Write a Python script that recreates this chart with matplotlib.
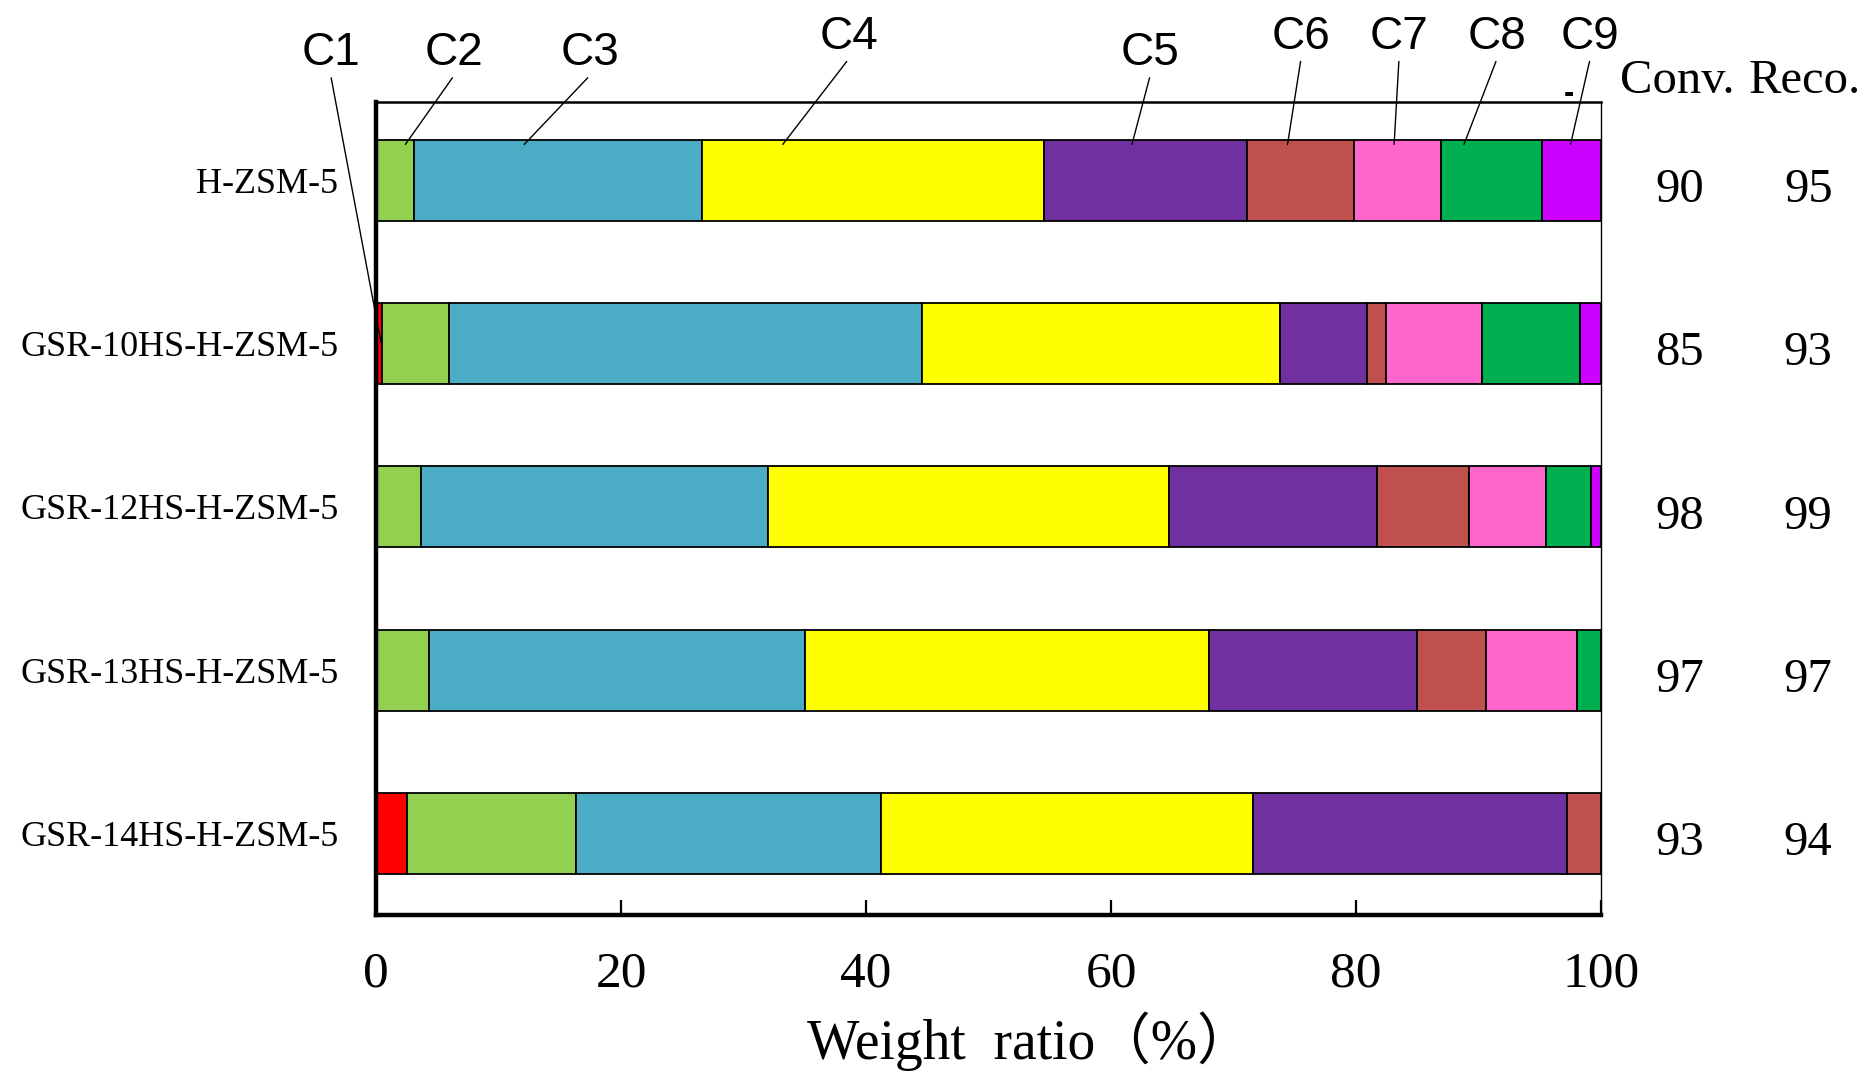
import numpy as np
import matplotlib
matplotlib.use("Agg")
import matplotlib.pyplot as plt

catalysts = ["H-ZSM-5", "GSR-10HS-H-ZSM-5", "GSR-12HS-H-ZSM-5",
             "GSR-13HS-H-ZSM-5", "GSR-14HS-H-ZSM-5"]
groups = ["C1", "C2", "C3", "C4", "C5", "C6", "C7", "C8", "C9"]

# weight ratio (%) of each carbon-number group, one list per group
c1 = [0.0, 0.5, 0.0, 0.0, 2.5]
c2 = [3.1, 5.5, 3.7, 4.3, 13.8]
c3 = [23.5, 38.6, 28.3, 30.7, 24.9]
c4 = [27.9, 29.2, 32.7, 33.0, 30.4]
c5 = [16.6, 7.1, 17.0, 17.0, 25.6]
c6 = [8.7, 1.5, 7.5, 5.6, 2.8]
c7 = [7.1, 7.9, 6.3, 7.4, 0.0]
c8 = [8.3, 8.0, 3.7, 2.0, 0.0]
c9 = [4.8, 1.7, 0.8, 0.0, 0.0]

conversion = [90, 85, 98, 97, 93]
recovery = [95, 93, 99, 97, 94]

colors = ["#FF0000", "#92D050", "#4BACC6", "#FFFF00", "#7030A0",
          "#C0504D", "#FF66CC", "#00B050", "#CC00FF"]

serif = ["Liberation Serif", "DejaVu Serif"]
serif_cjk = ["Liberation Serif", "Noto Sans CJK SC", "DejaVu Sans"]
sans = ["Liberation Sans Narrow", "Liberation Sans", "DejaVu Sans"]

fig = plt.figure(figsize=(18.64, 10.77), dpi=100)
ax = fig.add_axes([0.2017, 0.1504, 0.6573, 0.7549])

y = np.arange(len(catalysts))
left = np.zeros(len(catalysts))
for vals, col in zip([c1, c2, c3, c4, c5, c6, c7, c8, c9], colors):
    vals = np.array(vals)
    lw = [1.3 if v > 0 else 0 for v in vals]
    ax.barh(y, vals, left=left, height=0.495, color=col,
            edgecolor="black", linewidth=lw, zorder=2)
    left += vals

ax.set_xlim(0, 100)
ax.set_ylim(4.5, -0.48)
ax.set_xticks([0, 20, 40, 60, 80, 100])
ax.set_xticklabels(["0", "20", "40", "60", "80", "100"], family=serif, fontsize=37)
ax.set_yticks(y)
ax.set_yticklabels(catalysts, family=serif, fontsize=26)
ax.tick_params(axis="x", direction="in", length=11, width=1.6, pad=26)
ax.tick_params(axis="y", length=0, pad=27)
ax.set_xlabel("Weight  ratio（%）", family=serif_cjk, fontsize=40)
ax.xaxis.set_label_coords(0.534, -0.118)

ax.spines["left"].set_linewidth(3.2)
ax.spines["bottom"].set_linewidth(3.2)
ax.spines["top"].set_linewidth(1.8)
ax.spines["right"].set_linewidth(1.0)

# group labels with leader lines (text position -> pointer into bar)
label_x = [-3.7, 6.4, 17.5, 38.6, 63.2, 75.5, 83.5, 91.5, 99.1]
label_y = [-0.78, -0.78, -0.78, -0.88, -0.78, -0.88, -0.88, -0.88, -0.88]
point_x = [0.4, 2.4, 12.1, 33.2, 61.7, 74.4, 83.1, 88.8, 97.5]
point_y = [0.99, -0.22, -0.22, -0.22, -0.22, -0.22, -0.22, -0.22, -0.22]
for g, tx, ty, px, py in zip(groups, label_x, label_y, point_x, point_y):
    ax.annotate(g, xy=(px, py), xytext=(tx, ty), textcoords="data",
                ha="center", va="center", family=sans, fontsize=33,
                annotation_clip=False, zorder=5,
                arrowprops=dict(arrowstyle="-", color="black", lw=1.0,
                                shrinkA=0, shrinkB=0, relpos=(0.5, 0.0)))
ax.text(97.4, -0.53, "-", ha="center", va="center", family=sans,
        fontsize=22, fontweight="bold", clip_on=False)

# conversion / recovery columns
ax.text(106.2, -0.61, "Conv.", ha="center", va="center", family=serif,
        fontsize=35, clip_on=False)
ax.text(116.6, -0.61, "Reco.", ha="center", va="center", family=serif,
        fontsize=35, clip_on=False)
for i, (cv, rc) in enumerate(zip(conversion, recovery)):
    ax.text(106.4, i + 0.06, str(cv), ha="center", va="center",
            family=serif, fontsize=35, clip_on=False)
    ax.text(116.9, i + 0.06, str(rc), ha="center", va="center",
            family=serif, fontsize=35, clip_on=False)

fig.savefig("out.png", dpi=100)
